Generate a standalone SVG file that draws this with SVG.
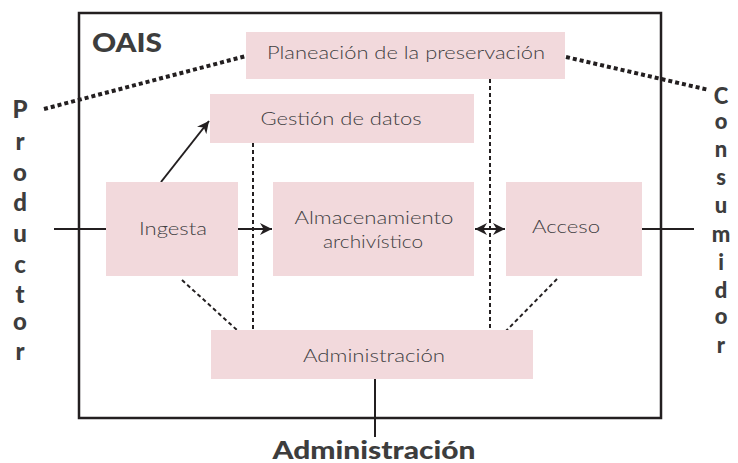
<svg xmlns="http://www.w3.org/2000/svg" width="738" height="463" viewBox="0 0 738 463">
<style>
.box{fill:#f2d9dc}
.lbl{font-family:Lato,"Liberation Sans",sans-serif;font-weight:300;font-size:18.5px;fill:#414042;text-anchor:middle}
.big{font-family:Lato,"Liberation Sans",sans-serif;font-weight:900;fill:#3d3d3d;text-anchor:middle}
.solid{stroke:#231f20;stroke-width:2;fill:none}
.dot{stroke:#231f20;stroke-width:2;stroke-dasharray:4 3;fill:none}
.thick{stroke:#231f20;stroke-width:4;stroke-dasharray:4 3;fill:none}
</style>
<defs>
<marker id="ah" viewBox="0 0 10 10" refX="10" refY="5" markerWidth="6" markerHeight="6" orient="auto-start-reverse" markerUnits="strokeWidth">
<path d="M0,0 L10,5 L0,10 L3,5 Z" fill="#231f20"/>
</marker>
</defs>
<rect id="frame" x="79" y="13" width="582" height="405" fill="#fff" stroke="#231f20" stroke-width="2.5"/>
<text x="92" y="52" class="big" style="text-anchor:start;font-size:26px" textLength="70" lengthAdjust="spacingAndGlyphs">OAIS</text>
<g id="connectors">
<line class="thick" x1="44" y1="109" x2="246" y2="56"/>
<line class="thick" x1="566" y1="57" x2="709" y2="90"/>
<line class="dot" x1="253" y1="143" x2="253" y2="330"/>
<line class="dot" x1="490" y1="79" x2="490" y2="330"/>
<line class="dot" x1="182" y1="280" x2="238" y2="331"/>
<line class="dot" x1="557" y1="279" x2="506" y2="331"/>
<line class="solid" x1="54" y1="229" x2="106" y2="229"/>
<line class="solid" x1="238" y1="229" x2="272" y2="229" marker-end="url(#ah)"/>
<line class="solid" x1="161" y1="182" x2="209" y2="121" marker-end="url(#ah)"/>
<line class="solid" x1="475" y1="229" x2="505" y2="229" marker-start="url(#ah)" marker-end="url(#ah)"/>
<line class="solid" x1="642" y1="229" x2="694" y2="229"/>
<line class="solid" x1="375" y1="379" x2="375" y2="437"/>
</g>
<g id="planeacion"><rect class="box" x="246" y="32" width="319" height="47"/><text class="lbl" x="406" y="59" textLength="278" lengthAdjust="spacingAndGlyphs">Planeación de la preservación</text></g>
<g id="gestion"><rect class="box" x="210" y="94" width="264" height="49"/><text class="lbl" x="341" y="125" textLength="161" lengthAdjust="spacingAndGlyphs">Gestión de datos</text></g>
<g id="ingesta"><rect class="box" x="106" y="182" width="132" height="94"/><text class="lbl" x="173" y="235" textLength="68" lengthAdjust="spacingAndGlyphs">Ingesta</text></g>
<g id="almacenamiento"><rect class="box" x="273" y="182" width="201" height="94"/><text class="lbl" x="374" y="224" textLength="159" lengthAdjust="spacingAndGlyphs">Almacenamiento</text><text class="lbl" x="373" y="248" textLength="100" lengthAdjust="spacingAndGlyphs">archivístico</text></g>
<g id="acceso"><rect class="box" x="506" y="182" width="136" height="94"/><text class="lbl" x="566" y="233" textLength="68" lengthAdjust="spacingAndGlyphs">Acceso</text></g>
<g id="administracion"><rect class="box" x="211" y="330" width="322" height="49"/><text class="lbl" x="374" y="362" textLength="142" lengthAdjust="spacingAndGlyphs">Administración</text></g>
<g id="productor" class="big" style="font-size:24px">
<text x="20" y="118">P</text><text x="20" y="150">r</text><text x="20" y="181">o</text><text x="20" y="211">d</text><text x="20" y="242">u</text><text x="20" y="273">c</text><text x="20" y="303">t</text><text x="20" y="330">o</text><text x="20" y="360">r</text>
</g>
<g id="consumidor" class="big" style="font-size:22px">
<text x="721" y="104">C</text><text x="721" y="129">o</text><text x="721" y="157">n</text><text x="721" y="185">s</text><text x="721" y="213">u</text><text x="721" y="242">m</text><text x="721" y="270">i</text><text x="721" y="298">d</text><text x="721" y="324">o</text><text x="721" y="353">r</text>
</g>
<g id="administracion-ext"><text class="big" x="374" y="459" style="font-size:25px" textLength="203" lengthAdjust="spacingAndGlyphs">Administración</text></g>
</svg>
